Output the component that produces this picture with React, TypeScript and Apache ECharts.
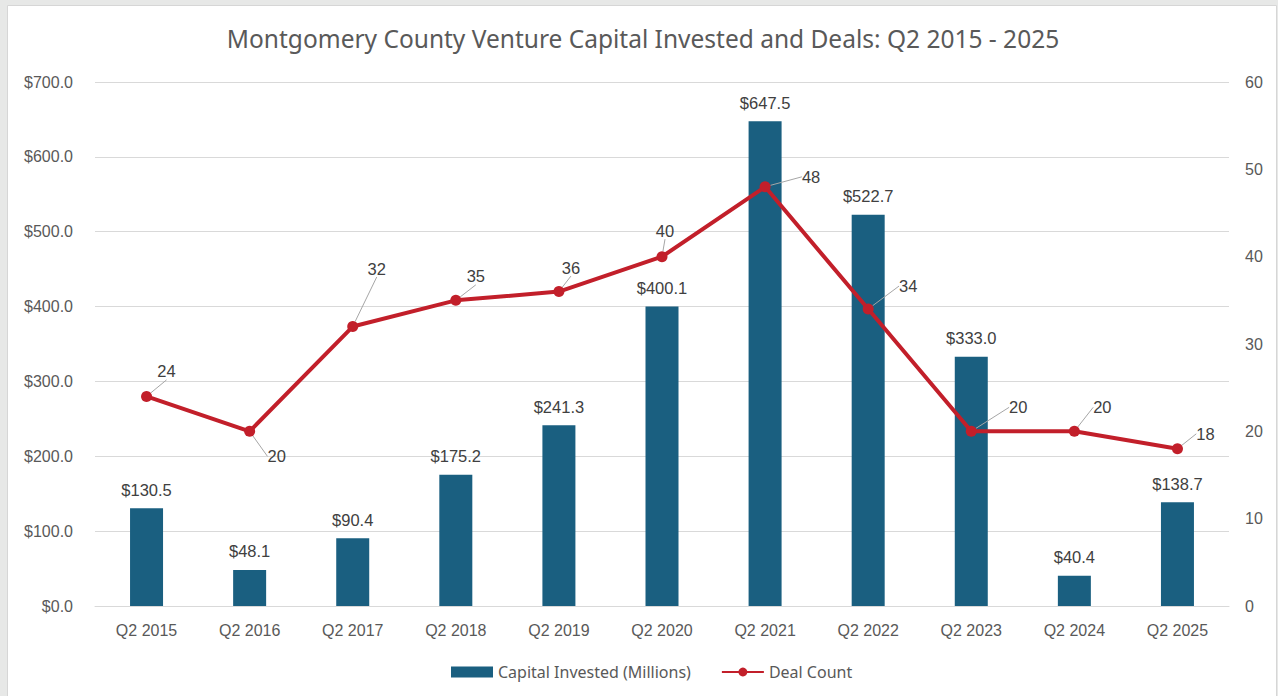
import React, { useEffect, useRef } from "react";
import * as echarts from "echarts";

const categories = ["Q2 2015", "Q2 2016", "Q2 2017", "Q2 2018", "Q2 2019", "Q2 2020", "Q2 2021", "Q2 2022", "Q2 2023", "Q2 2024", "Q2 2025"];
const capitalInvested = [130.5, 48.1, 90.4, 175.2, 241.3, 400.1, 647.5, 522.7, 333.0, 40.4, 138.7];
const dealCount = [24, 20, 32, 35, 36, 40, 48, 34, 20, 20, 18];
// label offsets (dx, dy) for deal count labels
const dealLabelOffsets: [number, number][] = [
  [20, -25], [27, 25], [24, -58], [20, -24], [12, -24], [3, -26], [46, -10], [40, -23], [47, -24], [28, -24], [28, -15],
];

const TEXT = "#595959";
const LABEL = "#404040";
const BAR = "#1a5f80";
const LINE = "#c21f2a";
const FONT = "'Liberation Sans', Arial, sans-serif";
const TITLE_FONT = "'Noto Sans', 'Open Sans', sans-serif";

export default function App() {
  const ref = useRef<HTMLDivElement>(null);
  useEffect(() => {
    if (!ref.current) return;
    const chart = echarts.init(ref.current, undefined, { renderer: "svg" });
    chart.setOption({
      animation: false,
      backgroundColor: "#e7e8e7",
      graphic: [
        {
          type: "rect",
          shape: { x: 7.5, y: 5.5, width: 1269, height: 700 },
          style: { fill: "#ffffff", stroke: "#d6d6d6", lineWidth: 1 },
          z: -10,
        },
      ],
      title: {
        text: "Montgomery County Venture Capital Invested and Deals: Q2 2015 - 2025",
        left: 638,
        textAlign: "center",
        top: 21,
        textStyle: { fontFamily: TITLE_FONT, fontSize: 24.5, fontWeight: "normal", color: TEXT },
      },
      legend: {
        bottom: 11,
        left: 446,
        itemGap: 30,
        itemWidth: 42,
        itemHeight: 11,
        textStyle: { fontFamily: TITLE_FONT, fontSize: 16, color: TEXT },
        data: [
          { name: "Capital Invested (Millions)", icon: "rect" },
          { name: "Deal Count" },
        ],
      },
      grid: { left: 95, right: 49, top: 82, bottom: 90, containLabel: false },
      xAxis: {
        type: "category",
        data: categories,
        axisLine: { show: true, lineStyle: { color: "#d9d9d9", width: 1 } },
        axisTick: { show: false },
        axisLabel: { color: TEXT, fontFamily: FONT, fontSize: 16, margin: 16 },
      },
      yAxis: [
        {
          type: "value",
          min: 0,
          max: 700,
          interval: 100,
          axisLine: { show: false },
          axisTick: { show: false },
          splitLine: { lineStyle: { color: "#d9d9d9", width: 1 } },
          axisLabel: {
            color: TEXT,
            fontFamily: FONT,
            fontSize: 16,
            margin: 22,
            formatter: (v: number) => "$" + v.toFixed(1),
          },
        },
        {
          type: "value",
          min: 0,
          max: 60,
          interval: 10,
          position: "right",
          axisLine: { show: false },
          axisTick: { show: false },
          splitLine: { show: false },
          axisLabel: { color: TEXT, fontFamily: FONT, fontSize: 16, margin: 16 },
        },
      ],
      series: [
        {
          name: "Capital Invested (Millions)",
          type: "bar",
          data: capitalInvested,
          barWidth: 33,
          itemStyle: { color: BAR },
          label: {
            show: true,
            position: "top",
            distance: 10,
            color: LABEL,
            fontFamily: FONT,
            fontSize: 16.5,
            formatter: (p: any) => "$" + Number(p.value).toFixed(1),
          },
        },
        {
          name: "Deal Count",
          type: "line",
          yAxisIndex: 1,
          data: dealCount,
          symbol: "circle",
          symbolSize: 11,
          itemStyle: { color: LINE },
          lineStyle: { color: LINE, width: 4 },
          z: 5,
          label: {
            show: true,
            position: "inside",
            color: LABEL,
            fontFamily: FONT,
            fontSize: 16.5,
          },
          labelLine: { show: true, lineStyle: { color: "#a6a6a6", width: 1 } },
          labelLayout: (p: any) => {
            const o = dealLabelOffsets[p.dataIndex] || [0, 0];
            return { dx: o[0], dy: o[1] };
          },
        },
      ],
    });
    return () => chart.dispose();
  }, []);
  return (
    <div
      ref={ref}
      style={{ position: "fixed", left: 0, top: 0, width: 1278, height: 696 }}
    />
  );
}
